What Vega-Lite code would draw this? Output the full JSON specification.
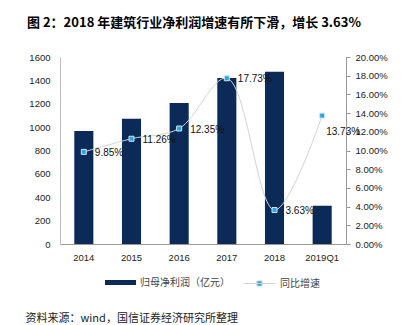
{
  "$schema": "https://vega.github.io/schema/vega-lite/v6.json",
  "width": 286,
  "height": 187,
  "autosize": {"type": "none"},
  "padding": {"left": 60, "top": 57, "right": 58, "bottom": 81},
  "background": "white",
  "config": {"view": {"stroke": null}},
  "title": {
    "text": "图 2：2018 年建筑行业净利润增速有所下滑，增长 3.63%",
    "anchor": "start",
    "frame": "group",
    "dx": -33,
    "offset": 22,
    "font": "Noto Sans CJK SC",
    "fontSize": 13,
    "fontWeight": "bold",
    "color": "#000000"
  },
  "data": {
    "values": [
      {"period": "2014", "profit": 967, "growth": 0.0985},
      {"period": "2015", "profit": 1072, "growth": 0.1126},
      {"period": "2016", "profit": 1206, "growth": 0.1235},
      {"period": "2017", "profit": 1420, "growth": 0.1773},
      {"period": "2018", "profit": 1474, "growth": 0.0363},
      {"period": "2019Q1", "profit": 328, "growth": 0.1373}
    ]
  },
  "encoding": {
    "x": {
      "field": "period",
      "type": "ordinal",
      "sort": null,
      "scale": {"paddingInner": 0.6, "paddingOuter": 0.3},
      "axis": {
        "labelAngle": 0,
        "labelFont": "Liberation Sans",
        "labelFontSize": 9.5,
        "labelColor": "#222222",
        "labelPadding": 8,
        "ticks": false,
        "domainColor": "#999999",
        "title": "资料来源：wind，国信证券经济研究所整理",
        "titleFont": "Noto Sans CJK SC",
        "titleFontSize": 11,
        "titleFontWeight": "normal",
        "titleColor": "#222222",
        "titleAlign": "left",
        "titleBaseline": "middle",
        "titleAnchor": "start",
        "titleX": -35,
        "titleY": 74
      }
    }
  },
  "layer": [
    {
      "mark": {"type": "bar"},
      "encoding": {
        "y": {
          "field": "profit",
          "type": "quantitative",
          "scale": {"domain": [0, 1600]},
          "axis": {
            "values": [0, 200, 400, 600, 800, 1000, 1200, 1400, 1600],
            "format": "d",
            "grid": false,
            "ticks": false,
            "title": null,
            "domainColor": "#bbbbbb",
            "labelFont": "Liberation Sans",
            "labelFontSize": 9.5,
            "labelColor": "#222222",
            "labelPadding": 10
          }
        },
        "fill": {
          "datum": "归母净利润（亿元）",
          "scale": {"range": ["#0b2a57"]},
          "legend": {
            "title": null,
            "orient": "none",
            "legendX": 45,
            "legendY": 210,
            "symbolType": "M-1,-0.16H1V0.16H-1Z",
            "symbolSize": 961,
            "symbolStrokeWidth": 0,
            "labelFont": "Noto Sans CJK SC",
            "labelFontSize": 10,
            "labelColor": "#444444",
            "labelOffset": 4
          }
        }
      }
    },
    {
      "encoding": {
        "y": {
          "field": "growth",
          "type": "quantitative",
          "scale": {"domain": [0, 0.2]},
          "axis": {
            "orient": "right",
            "format": ".2%",
            "values": [0, 0.02, 0.04, 0.06, 0.08, 0.1, 0.12, 0.14, 0.16, 0.18, 0.2],
            "grid": false,
            "ticks": true,
            "tickSize": 4,
            "tickColor": "#999999",
            "title": null,
            "domainColor": "#999999",
            "labelFont": "Liberation Sans",
            "labelFontSize": 9.5,
            "labelColor": "#222222",
            "labelPadding": 5
          }
        }
      },
      "layer": [
        {
          "mark": {"type": "line", "interpolate": "catmull-rom", "strokeWidth": 1},
          "encoding": {
            "stroke": {
              "datum": "同比增速",
              "scale": {"range": ["#d3d3d3"]},
              "legend": {
                "title": null,
                "orient": "none",
                "legendX": 183,
                "legendY": 210,
                "symbolType": "M-1,0H1M-0.16,-0.16H0.16V0.16H-0.16Z",
                "symbolSize": 1024,
                "symbolStrokeWidth": 1,
                "labelFont": "Noto Sans CJK SC",
                "labelFontSize": 10,
                "labelColor": "#444444",
                "labelOffset": 4,
                "encode": {"symbols": {"update": {"fill": {"value": "#2aa5df"}, "stroke": {"value": "#c8c8c8"}}}}
              }
            }
          }
        },
        {
          "mark": {"type": "point", "shape": "square", "filled": true, "size": 25, "fill": "#2aa5df", "stroke": "#cfe6f2", "strokeWidth": 1, "opacity": 1},
          "encoding": {}
        },
        {
          "transform": [{"filter": "datum.period !== '2019Q1'"}],
          "mark": {"type": "text", "align": "left", "baseline": "middle", "dx": 11, "dy": 1, "font": "Liberation Sans", "fontSize": 10, "color": "#111111"},
          "encoding": {"text": {"field": "growth", "type": "quantitative", "format": ".2%"}}
        },
        {
          "transform": [{"filter": "datum.period === '2019Q1'"}],
          "mark": {"type": "text", "align": "left", "baseline": "middle", "dx": 4, "dy": 16, "font": "Liberation Sans", "fontSize": 10, "color": "#111111"},
          "encoding": {"text": {"field": "growth", "type": "quantitative", "format": ".2%"}}
        }
      ]
    }
  ],
  "resolve": {"scale": {"y": "independent"}}
}
